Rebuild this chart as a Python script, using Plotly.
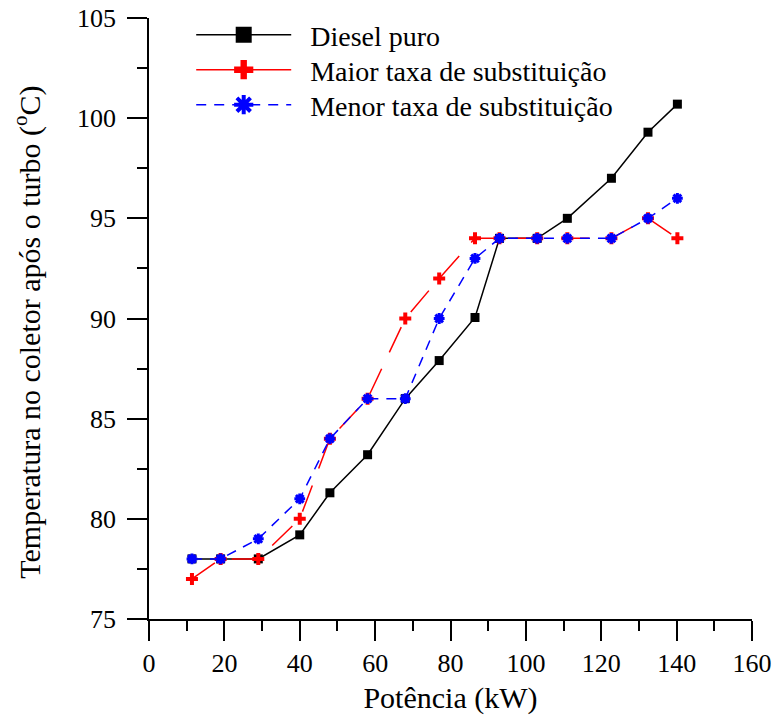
import plotly.graph_objects as go

potencia = [11.4, 19.0, 29.0, 40.0, 48.0, 58.0, 68.0, 77.0, 86.5, 93.0, 103.0, 111.0, 122.7, 132.4, 140.2]
diesel_puro = [78, 78, 78, 79.2, 81.3, 83.2, 86, 87.9, 90.05, 94, 94, 95, 97, 99.3, 100.7]
maior_taxa = [77, 78, 78, 80, 84, 86, 90, 92, 94, 94, 94, 94, 94, 95, 94]
menor_taxa = [78, 78, 79, 81, 84, 86, 86, 90, 93, 94, 94, 94, 94, 95, 96]

names = ["Diesel puro", "Maior taxa de substituição", "Menor taxa de substituição"]
y_title = "Temperatura no coletor após o turbo (<sup>o</sup>C)"
x_title = "Potência (kW)"
PAD = "\u00a0\u00a0"

FONT = "Liberation Serif"

fig = go.Figure()

fig.add_trace(go.Scatter(
    x=potencia, y=diesel_puro, mode="lines+markers", showlegend=False,
    line=dict(color="black", width=1.5),
    marker=dict(symbol="square", size=9, color="black")))
fig.add_trace(go.Scatter(
    x=potencia, y=maior_taxa, mode="lines+markers", showlegend=False,
    line=dict(color="red", width=1.5, dash="28px,18px"),
    marker=dict(symbol="cross", size=10, color="red")))
fig.add_trace(go.Scatter(
    x=potencia, y=menor_taxa, mode="lines+markers", showlegend=False,
    line=dict(color="blue", width=1.5, dash="10px,8px"),
    marker=dict(symbol="asterisk-open", size=9, color="blue",
                line=dict(color="blue", width=3))))

# legend entries (one legend per row)
fig.add_trace(go.Scatter(
    x=[None], y=[None], mode="lines+markers", name=PAD + names[0], legend="legend",
    line=dict(color="black", width=1.5),
    marker=dict(symbol="square", size=24, color="black")))
fig.add_trace(go.Scatter(
    x=[None], y=[None], mode="lines+markers", name=PAD + names[1], legend="legend2",
    line=dict(color="red", width=1.5),
    marker=dict(symbol="cross", size=24, color="red")))
fig.add_trace(go.Scatter(
    x=[None], y=[None], mode="lines+markers", name=PAD + names[2], legend="legend3",
    line=dict(color="blue", width=1.5, dash="10px,8px"),
    marker=dict(symbol="asterisk-open", size=24, color="blue",
                line=dict(color="blue", width=4))))

leg_common = dict(x=0.07, xanchor="left", yanchor="middle",
                  bgcolor="rgba(0,0,0,0)", itemwidth=95,
                  font=dict(family=FONT, size=28, color="black"))

fig.update_layout(
    width=774, height=722,
    margin=dict(l=149, r=22, t=18, b=103, autoexpand=False),
    paper_bgcolor="white", plot_bgcolor="white",
    font=dict(family=FONT, size=26, color="black"),
    showlegend=True,
    legend=dict(y=0.9717, **leg_common),
    legend2=dict(y=0.9135, **leg_common),
    legend3=dict(y=0.8552, **leg_common),
    annotations=[dict(
        text=y_title, xref="paper", yref="paper", x=-0.2007, y=0.478,
        xanchor="center", yanchor="middle", textangle=-90, showarrow=False,
        font=dict(family=FONT, size=30, color="black"))],
)

fig.update_xaxes(
    range=[0, 160], dtick=20, tick0=0, automargin=False,
    showline=True, linecolor="black", linewidth=1.5,
    ticks="outside", ticklen=20, tickwidth=1.5, tickcolor="black",
    minor=dict(dtick=10, ticks="outside", ticklen=10, tickwidth=1.5, tickcolor="black"),
    showgrid=False, zeroline=False,
    tickfont=dict(family=FONT, size=26),
    title=dict(text=x_title, font=dict(family=FONT, size=30), standoff=10),
)
fig.update_yaxes(
    range=[75, 105], dtick=5, tick0=75, automargin=False,
    showline=True, linecolor="black", linewidth=1.5,
    ticks="outside", ticklen=20, tickwidth=1.5, tickcolor="black",
    minor=dict(dtick=2.5, ticks="outside", ticklen=10, tickwidth=1.5, tickcolor="black"),
    showgrid=False, zeroline=False,
    ticklabelstandoff=6,
    tickfont=dict(family=FONT, size=26),
)

fig.write_html("out.html")
